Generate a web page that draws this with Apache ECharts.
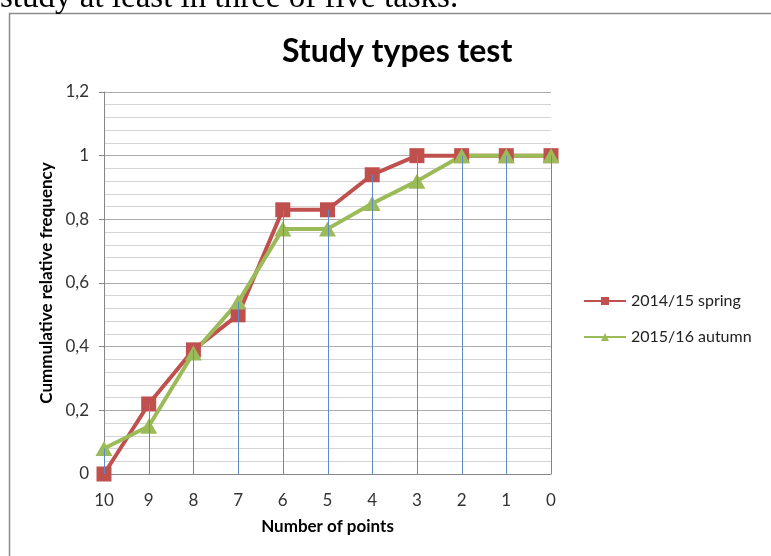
<!DOCTYPE html>
<html>
<head>
<meta charset="utf-8">
<script src="https://cdn.jsdelivr.net/npm/echarts@6/dist/echarts.min.js"></script>
<style>
  html, body { margin: 0; padding: 0; background: #fff; }
  #main { width: 771px; height: 556px; }
</style>
</head>
<body>
<div id="main"></div>
<script>
const categories = ['10', '9', '8', '7', '6', '5', '4', '3', '2', '1', '0'];
const spring = [0, 0.22, 0.39, 0.5, 0.83, 0.83, 0.94, 1, 1, 1, 1];
const autumn = [0.08, 0.15, 0.38, 0.54, 0.77, 0.77, 0.85, 0.92, 1, 1, 1];
const seriesNames = ['2014/15 spring', '2015/16 autumn'];

// drop lines go from the higher point down to the axis
const dropTops = spring.map((v, i) => Math.max(v, autumn[i]));

const font = 'Lato, Calibri, sans-serif';
const chart = echarts.init(document.getElementById('main'));

var option = {
  animation: false,
  textStyle: { fontFamily: font },
  title: {
    text: 'Study types test',
    left: 277,
    top: 31,
    textStyle: { fontFamily: font, fontSize: 32, fontWeight: 'bold', color: '#000' }
  },
  graphic: [
    {
      type: 'rect',
      shape: { x: 9.5, y: 13.5, width: 800, height: 600 },
      style: { fill: 'none', stroke: '#8c8c8c', lineWidth: 1.5 },
      silent: true
    },
    {
      type: 'text',
      x: 0,
      y: -2,
      style: {
        text: 'study at least in three of five tasks.',
        font: '33px "Liberation Serif", "Times New Roman", serif',
        fill: '#000',
        verticalAlign: 'middle'
      }
    }
  ],
  grid: { left: 104, right: 220, top: 92, bottom: 82 },
  legend: {
    data: seriesNames,
    orient: 'vertical',
    left: 578,
    top: 288,
    itemWidth: 42,
    itemHeight: 10,
    itemGap: 20,
    textStyle: { fontFamily: font, fontSize: 16, color: '#222' }
  },
  xAxis: {
    type: 'category',
    data: categories,
    boundaryGap: false,
    name: 'Number of points',
    nameLocation: 'middle',
    nameGap: 44,
    nameTextStyle: { fontFamily: font, fontSize: 17, fontWeight: 'bold', color: '#000' },
    axisLine: { lineStyle: { color: '#868686' } },
    axisTick: { show: false },
    axisLabel: { fontSize: 17, color: '#333', margin: 18 },
    splitLine: { show: false }
  },
  yAxis: {
    type: 'value',
    min: 0,
    max: 1.2,
    interval: 0.2,
    name: 'Cummulative relative frequency',
    nameLocation: 'middle',
    nameGap: 48,
    nameTextStyle: { fontFamily: font, fontSize: 17, fontWeight: 'bold', color: '#000' },
    axisLine: { show: true, lineStyle: { color: '#868686' } },
    axisTick: { show: true, length: 5, lineStyle: { color: '#868686' } },
    axisLabel: {
      fontSize: 17,
      color: '#333',
      margin: 15,
      formatter: v => String(Math.round(v * 10) / 10).replace('.', ',')
    },
    splitLine: { lineStyle: { color: '#ababab' } },
    minorTick: { show: false, splitNumber: 5 },
    minorSplitLine: { show: true, lineStyle: { color: '#d4d4d4' } }
  },
  series: [
    {
      name: seriesNames[0],
      type: 'line',
      data: spring,
      symbol: 'rect',
      symbolSize: 15,
      lineStyle: { color: '#C0504D', width: 4 },
      itemStyle: { color: '#C0504D' },
      z: 3
    },
    {
      name: seriesNames[1],
      type: 'line',
      data: autumn,
      symbol: 'triangle',
      symbolSize: [17, 15],
      lineStyle: { color: '#9BBB59', width: 4 },
      itemStyle: { color: '#9BBB59' },
      z: 3
    },
    {
      name: 'drop lines',
      type: 'custom',
      data: dropTops,
      silent: true,
      z: 5,
      renderItem: function (params, api) {
        const i = api.value(0);
        const top = api.coord([i, api.value(1)]);
        const bottom = api.coord([i, 0]);
        const x = Math.round(top[0]) + 0.5;
        return {
          type: 'line',
          shape: { x1: x, y1: top[1], x2: x, y2: bottom[1] },
          style: { stroke: '#5B8BC9', lineWidth: 1 }
        };
      }
    }
  ]
};

chart.setOption(option);
</script>
</body>
</html>
